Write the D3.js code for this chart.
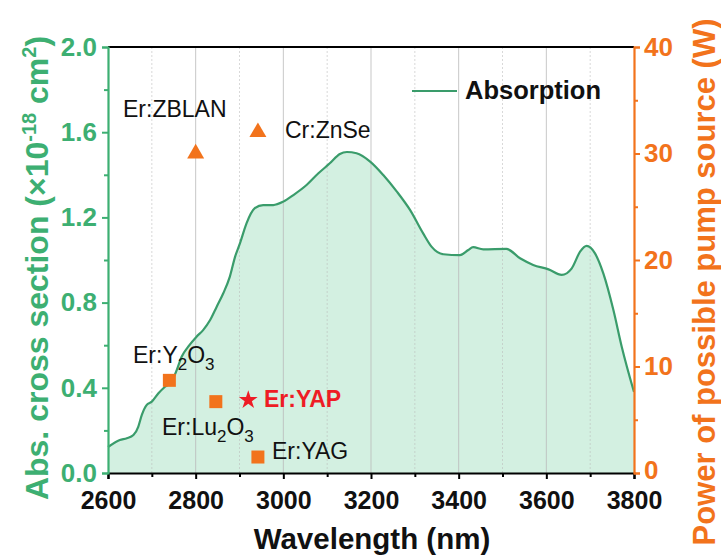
<!DOCTYPE html>
<html>
<head>
<meta charset="utf-8">
<script src="https://d3js.org/d3.v7.min.js"></script>
<style>
  body { margin: 0; background: #fff; }
  text { font-family: Arial, "Liberation Sans", sans-serif; }
</style>
</head>
<body>
<svg id="chart" width="721" height="558"></svg>
<script>
// absorption spectrum
const wavelength = [2600, 2627, 2643, 2658, 2669, 2677, 2688, 2700, 2715, 2730, 2745, 2757, 2768, 2783,
  2802, 2817, 2833, 2848, 2863, 2878, 2890, 2901, 2916, 2935, 2954, 2977, 3000, 3023, 3053, 3080,
  3106, 3129, 3145, 3167, 3198, 3228, 3259, 3289, 3319, 3338, 3365, 3403, 3422, 3433, 3456, 3509,
  3540, 3570, 3605, 3635, 3658, 3677, 3692, 3711, 3730, 3753, 3772, 3800];
const absorption = [0.122, 0.155, 0.163, 0.178, 0.217, 0.272, 0.319, 0.335, 0.374, 0.405, 0.429, 0.484, 0.546, 0.593,
  0.640, 0.671, 0.718, 0.781, 0.844, 0.922, 1.016, 1.078, 1.172, 1.243, 1.258, 1.258, 1.274, 1.305, 1.352, 1.407,
  1.454, 1.498, 1.507, 1.501, 1.462, 1.399, 1.321, 1.235, 1.125, 1.063, 1.027, 1.023, 1.047, 1.060, 1.050, 1.052,
  1.008, 0.977, 0.956, 0.930, 0.961, 1.039, 1.066, 1.031, 0.937, 0.765, 0.593, 0.380];

// pump sources (right axis, W)
const pumpNames = ["Er:ZBLAN", "Cr:ZnSe", "Er:Y2O3", "Er:Lu2O3", "Er:YAP", "Er:YAG"];
const pumpWave  = [2800, 2942, 2740, 2846, 2920, 2942];
const pumpPower = [30, 32, 8.7, 6.7, 6.85, 1.5];
const pumpShape = ["triangle", "triangle", "square", "square", "star", "square"];

const xTicks = [2600, 2800, 3000, 3200, 3400, 3600, 3800];
const yTicks = [0.0, 0.4, 0.8, 1.2, 1.6, 2.0];
const y2Ticks = [0, 10, 20, 30, 40];

const svg = d3.select("#chart");
const L = 108, R = 634, T = 47, B = 473;
const green = "#3daf72", lineGreen = "#3a9c6b", fillGreen = "#d3f0e1";
const orange = "#f2731c", red = "#ee1c25";

const x = d3.scaleLinear().domain([2600, 3800]).range([L, R]);
const y = d3.scaleLinear().domain([0, 2]).range([B, T]);
const y2 = d3.scaleLinear().domain([0, 40]).range([B, T]);

const spec = wavelength.map((w, i) => ({w: w, a: absorption[i]}));

// filled area under curve
svg.append("path").datum(spec)
  .attr("fill", fillGreen)
  .attr("d", d3.area().x(d => x(d.w)).y0(y(0)).y1(d => y(d.a)).curve(d3.curveMonotoneX));

// grid lines
const minor = d3.range(2700, 3800, 200);
svg.selectAll("line.gmin").data(minor).join("line").attr("class", "gmin")
  .attr("x1", d => x(d)).attr("x2", d => x(d)).attr("y1", T).attr("y2", B)
  .attr("stroke", "#bbb").attr("stroke-width", 0.8).attr("stroke-dasharray", "2,2").attr("opacity", 0.7);
svg.selectAll("line.gmaj").data(xTicks.slice(1, -1)).join("line").attr("class", "gmaj")
  .attr("x1", d => x(d)).attr("x2", d => x(d)).attr("y1", T).attr("y2", B)
  .attr("stroke", "#bbb").attr("stroke-width", 1).attr("opacity", 0.8);

// curve line
svg.append("path").datum(spec)
  .attr("fill", "none").attr("stroke", lineGreen).attr("stroke-width", 2.2)
  .attr("d", d3.line().x(d => x(d.w)).y(d => y(d.a)).curve(d3.curveMonotoneX));

// top frame
svg.append("line").attr("x1", L).attr("x2", R).attr("y1", T).attr("y2", T)
  .attr("stroke", "#000").attr("stroke-width", 2.2);

// bottom axis
const xAxis = svg.append("g").attr("transform", `translate(0,${B})`)
  .call(d3.axisBottom(x).tickValues(d3.range(2600, 3801, 100)).tickSize(6).tickFormat(d => xTicks.includes(d) ? d : ""));
xAxis.select(".domain").attr("stroke", "#000").attr("stroke-width", 2.2);
xAxis.selectAll(".tick line").attr("stroke", "#000").attr("stroke-width", 2)
  .attr("y2", d => xTicks.includes(d) ? 6 : 4);
xAxis.selectAll(".tick text").attr("font-size", 25).attr("font-weight", "bold").attr("fill", "#111").attr("dy", "1.08em");

// left axis
const yAxis = svg.append("g").attr("transform", `translate(${L},0)`)
  .call(d3.axisLeft(y).tickValues(d3.range(0, 2.01, 0.2)).tickSize(6)
    .tickFormat(d => yTicks.some(t => Math.abs(t - d) < 1e-6) ? d3.format(".1f")(d) : ""));
yAxis.select(".domain").attr("stroke", green).attr("stroke-width", 2.2);
yAxis.selectAll(".tick line").attr("stroke", green).attr("stroke-width", 2)
  .attr("x2", d => yTicks.some(t => Math.abs(t - d) < 1e-6) ? -6 : -4);
yAxis.selectAll(".tick text").attr("font-size", 26).attr("font-weight", "bold").attr("fill", green).attr("x", -11);

// right axis
const y2Axis = svg.append("g").attr("transform", `translate(${R},0)`)
  .call(d3.axisRight(y2).tickValues(d3.range(0, 41, 5)).tickSize(6).tickFormat(d => y2Ticks.includes(d) ? d : ""));
y2Axis.select(".domain").attr("stroke", orange).attr("stroke-width", 2.2);
y2Axis.selectAll(".tick line").attr("stroke", orange).attr("stroke-width", 2)
  .attr("x2", d => y2Ticks.includes(d) ? 6 : 4);
y2Axis.selectAll(".tick text").attr("font-size", 26).attr("font-weight", "bold").attr("fill", orange).attr("x", 10)
  .attr("dy", d => d === 0 ? "0.2em" : "0.32em");

// axis titles
svg.append("text").attr("x", 372).attr("y", 549).attr("text-anchor", "middle")
  .attr("font-size", 29.5).attr("font-weight", "bold").attr("fill", "#111").text("Wavelength (nm)");

const lt = svg.append("text").attr("transform", "translate(48,268) rotate(-90)")
  .attr("text-anchor", "middle").attr("font-size", 32).attr("font-weight", "bold").attr("fill", green);
lt.append("tspan").text("Abs. cross section (\u00d710");
lt.append("tspan").attr("dy", -12).attr("font-size", 20).text("-18");
lt.append("tspan").attr("dy", 12).text(" cm");
lt.append("tspan").attr("dy", -12).attr("font-size", 20).text("2");
lt.append("tspan").attr("dy", 12).text(")");

svg.append("text").attr("transform", "translate(715,282) rotate(-90)")
  .attr("text-anchor", "middle").attr("font-size", 31).attr("font-weight", "bold").attr("fill", orange)
  .text("Power of possible pump source (W)");

// legend
svg.append("line").attr("x1", 412).attr("x2", 457).attr("y1", 91).attr("y2", 91)
  .attr("stroke", lineGreen).attr("stroke-width", 2.2);
svg.append("text").attr("x", 465).attr("y", 99).attr("font-size", 25.5).attr("font-weight", "bold")
  .attr("fill", "#111").text("Absorption");

// pump markers
const symType = {triangle: d3.symbolTriangle, square: d3.symbolSquare, star: d3.symbolStar};
const symSize = {triangle: 125, square: 169, star: 110};
pumpNames.forEach((n, i) => {
  svg.append("path")
    .attr("transform", `translate(${x(pumpWave[i])},${y2(pumpPower[i])})`)
    .attr("d", d3.symbol().type(symType[pumpShape[i]]).size(symSize[pumpShape[i]])())
    .attr("fill", pumpShape[i] === "star" ? red : orange);
});

// labels
function chem(xp, yp, parts, opts) {
  const t = svg.append("text").attr("x", xp).attr("y", yp).attr("font-size", 23)
    .attr("fill", opts && opts.color || "#111").attr("font-weight", opts && opts.bold ? "bold" : "normal");
  let down = false;
  parts.forEach(p => {
    const sub = /^[0-9]$/.test(p);
    const s = t.append("tspan").text(p);
    if (sub && !down) { s.attr("dy", 7).attr("font-size", 17); down = true; }
    else if (!sub && down) { s.attr("dy", -7); down = false; }
  });
}
chem(123, 117, ["Er:ZBLAN"]);
chem(285, 138, ["Cr:ZnSe"]);
chem(133, 363, ["Er:Y", "2", "O", "3"]);
chem(162, 435, ["Er:Lu", "2", "O", "3"]);
chem(264, 407, ["Er:YAP"], {bold: true, color: red});
chem(272, 459, ["Er:YAG"]);
</script>
</body>
</html>
